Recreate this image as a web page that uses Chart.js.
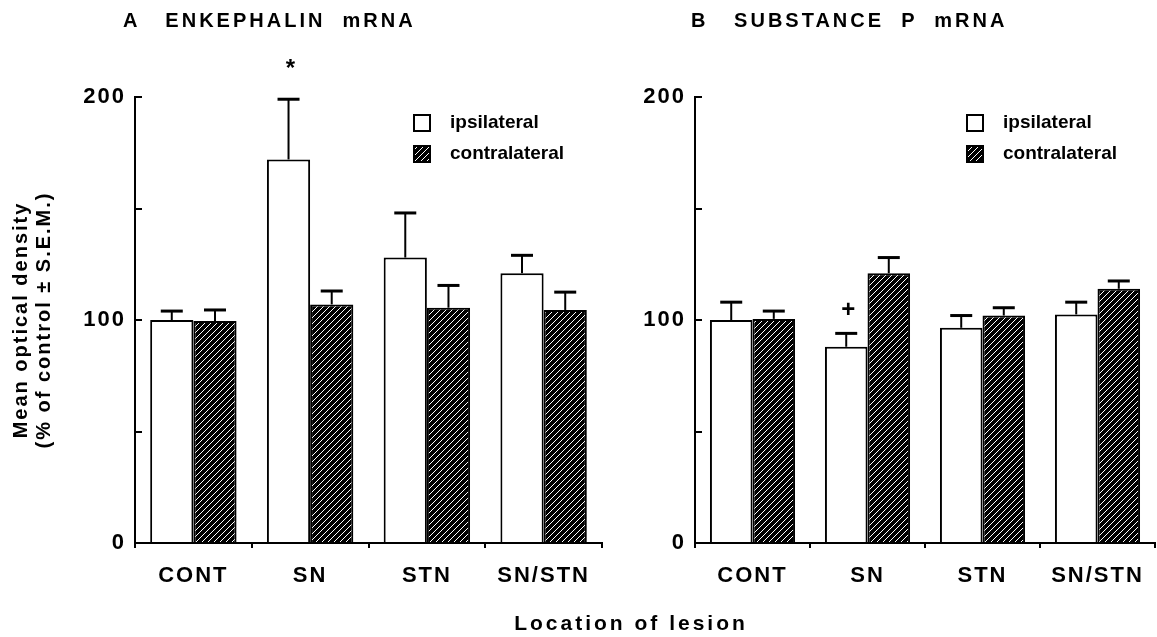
<!DOCTYPE html>
<html>
<head>
<meta charset="utf-8">
<script src="https://cdn.jsdelivr.net/npm/chart.js@4.4.1/dist/chart.umd.min.js"></script>
<style>
  body { margin: 0; background: #fff; }
  #page { position: relative; width: 1157px; height: 637px; overflow: hidden; font-family: "Liberation Sans", Arial, sans-serif; color: #000; }
  canvas { position: absolute; top: 0; }
  #chartA { left: 0; }
  #chartB { left: 615px; }
  .txt { position: absolute; font-weight: bold; white-space: pre; line-height: 24px; }
  #titleA { left: 123px; top: 8px; font-size: 20px; letter-spacing: 3px; }
  #titleB { left: 691px; top: 8px; font-size: 20px; letter-spacing: 3px; }
  #xTitle { left: 416px; width: 430px; text-align: center; top: 611px; font-size: 21px; letter-spacing: 3px; }
</style>
</head>
<body>
<div id="page">
  <canvas id="chartA" width="615" height="637"></canvas>
  <canvas id="chartB" width="542" height="637"></canvas>
  <div class="txt" id="titleA">A   ENKEPHALIN  mRNA</div>
  <div class="txt" id="titleB">B   SUBSTANCE  P  mRNA</div>
  <div class="txt" id="xTitle">Location of lesion</div>
</div>
<script>
// data
const categories = ["CONT", "SN", "STN", "SN/STN"];

const enkIpsi = [100, 172, 128, 121];
const enkIpsiErr = [4, 27, 20, 8];
const enkContra = [99.5, 107, 105.5, 104.5];
const enkContraErr = [5, 6, 10, 8];
const enkMarks = ["", "*", "", ""];

const subIpsi = [100, 88, 96.5, 102.5];
const subIpsiErr = [8, 6, 5.5, 5.5];
const subContra = [100.5, 121, 102, 114];
const subContraErr = [3.5, 7, 3.5, 3.5];
const subMarks = ["", "+", "", ""];

const yTicks = [0, 100, 200];

const FONT = "'Liberation Sans', Arial, sans-serif";
// how far above the error cap each significance sign sits
const markLift = { "*": 30, "+": 23 };

function hatch(canvas) {
  const c = document.createElement("canvas");
  c.width = 6; c.height = 6;
  const g = c.getContext("2d");
  g.fillStyle = "#000";
  g.fillRect(0, 0, 6, 6);
  g.strokeStyle = "#fff";
  g.lineWidth = 1;
  g.beginPath();
  g.moveTo(0, 6); g.lineTo(6, 0);
  g.moveTo(-1, 1); g.lineTo(1, -1);
  g.moveTo(5, 7); g.lineTo(7, 5);
  g.stroke();
  return canvas.getContext("2d").createPattern(c, "repeat");
}

// wide tracking like the original typesetting
const spacing = {
  id: "spacing",
  beforeDraw(chart) { chart.ctx.letterSpacing = "2px"; }
};

// one-sided error bars + significance marks
const errorBars = {
  id: "errorBars",
  afterDatasetsDraw(chart, args, opts) {
    const ctx = chart.ctx;
    const y = chart.scales.y;
    chart.data.datasets.forEach((ds, i) => {
      chart.getDatasetMeta(i).data.forEach((bar, j) => {
        const top = y.getPixelForValue(ds.data[j] + ds.errors[j]);
        ctx.save();
        ctx.strokeStyle = "#000";
        ctx.lineWidth = 2;
        ctx.beginPath();
        ctx.moveTo(bar.x, bar.y);
        ctx.lineTo(bar.x, top);
        ctx.stroke();
        ctx.lineWidth = 3;
        ctx.beginPath();
        ctx.moveTo(bar.x - 11, top);
        ctx.lineTo(bar.x + 11, top);
        ctx.stroke();
        const m = i === 0 ? opts.marks[j] : "";
        if (m) {
          ctx.fillStyle = "#000";
          ctx.letterSpacing = "0px";
          ctx.font = "bold 24px " + FONT;
          ctx.textAlign = "center";
          ctx.textBaseline = "middle";
          ctx.fillText(m, bar.x + 2, top - markLift[m]);
        }
        ctx.restore();
      });
    });
  }
};

// legend stacked in the upper right of the plot
const boxLegend = {
  id: "boxLegend",
  afterDraw(chart, args, opts) {
    const ctx = chart.ctx;
    const area = chart.chartArea;
    const x0 = area.right - opts.fromRight;
    ctx.save();
    ctx.letterSpacing = "0px";
    ctx.font = "bold 19px " + FONT;
    ctx.textBaseline = "middle";
    ctx.textAlign = "left";
    chart.data.datasets.forEach((ds, i) => {
      const cy = area.top + 26 + i * 31;
      ctx.fillStyle = ds.backgroundColor;
      ctx.fillRect(x0, cy - 8, 16, 16);
      ctx.strokeStyle = "#000";
      ctx.lineWidth = 2;
      ctx.strokeRect(x0, cy - 8, 16, 16);
      ctx.fillStyle = "#000";
      ctx.fillText(ds.label, x0 + 36, cy);
    });
    ctx.restore();
  }
};

function makePanel(id, ipsi, ipsiErr, contra, contraErr, marks, axisLeft, axisRight, showTitle) {
  const canvas = document.getElementById(id);
  return new Chart(canvas, {
    type: "bar",
    data: {
      labels: categories,
      datasets: [
        { label: "ipsilateral", data: ipsi, errors: ipsiErr,
          backgroundColor: "#fff", borderColor: "#000", borderWidth: 2,
          categoryPercentage: 0.74, barPercentage: 1 },
        { label: "contralateral", data: contra, errors: contraErr,
          backgroundColor: hatch(canvas), borderColor: "#000", borderWidth: 2,
          categoryPercentage: 0.74, barPercentage: 1 }
      ]
    },
    options: {
      responsive: false,
      animation: false,
      events: [],
      layout: { padding: { top: 97, right: canvas.width - axisRight, left: 0, bottom: 0 } },
      plugins: {
        legend: { display: false },
        tooltip: { enabled: false },
        errorBars: { marks: marks },
        boxLegend: { fromRight: 188 }
      },
      scales: {
        x: {
          grid: { offset: true, drawOnChartArea: false, color: "#000", lineWidth: 2, tickLength: 5 },
          border: { color: "#000", width: 2 },
          ticks: { color: "#000", padding: 15, font: { family: FONT, size: 22, weight: "bold" } },
          afterFit(s) { s.height = canvas.height - 543; }
        },
        y: {
          min: 0, max: 200,
          ticks: {
            stepSize: 50, color: "#000", padding: 16,
            font: { family: FONT, size: 22, weight: "bold" },
            callback: v => yTicks.includes(v) ? v : ""
          },
          grid: { drawOnChartArea: false, color: "#000", lineWidth: 2, tickLength: -7 },
          border: { color: "#000", width: 2 },
          title: {
            display: showTitle,
            text: ["Mean optical density", "(% of control \u00b1 S.E.M.)"],
            color: "#000",
            font: { family: FONT, size: 20, weight: "bold", lineHeight: 1.15 },
            padding: { top: 10, bottom: 0 }
          },
          afterFit(s) { s.width = axisLeft; }
        }
      }
    },
    plugins: [spacing, errorBars, boxLegend]
  });
}

makePanel("chartA", enkIpsi, enkIpsiErr, enkContra, enkContraErr, enkMarks, 135, 602, true);
makePanel("chartB", subIpsi, subIpsiErr, subContra, subContraErr, subMarks, 80, 540, false);
</script>
</body>
</html>
